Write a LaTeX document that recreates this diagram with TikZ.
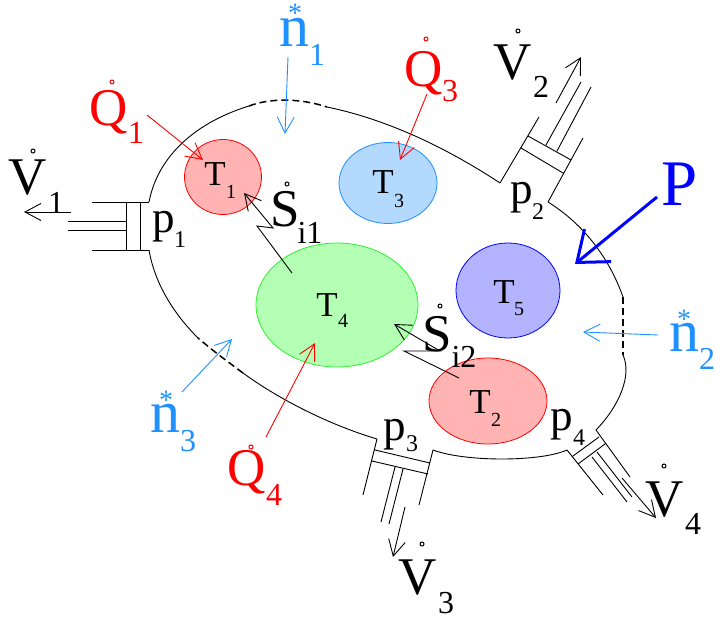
\documentclass[tikz,border=0pt]{standalone}
\usepackage{fontspec}
\setmainfont{Liberation Serif}
\usetikzlibrary{arrows.meta, shapes.geometric}

\definecolor{sky}{HTML}{1E90FF}
\definecolor{fillred}{HTML}{FFB3B3}
\definecolor{fillsky}{HTML}{B3D9FF}
\definecolor{fillgreen}{HTML}{B3FFB3}
\definecolor{fillblue}{HTML}{B3B3FF}
\definecolor{edgegreen}{HTML}{33EE33}

\tikzset{
	bigsym/.style={anchor=base, inner sep=0pt, font=\fontsize{53}{53}\selectfont},
	bigsub/.style={anchor=base, inner sep=0pt, font=\fontsize{32}{32}\selectfont},
	psym/.style={anchor=base, inner sep=0pt, font=\fontsize{45}{45}\selectfont},
	psub/.style={anchor=base, inner sep=0pt, font=\fontsize{24}{24}\selectfont},
	tsym/.style={anchor=base, inner sep=0pt, font=\fontsize{35}{35}\selectfont},
	tsub/.style={anchor=base, inner sep=0pt, font=\fontsize{20}{20}\selectfont},
	nsym/.style={anchor=base, inner sep=0pt, font=\fontsize{60}{60}\selectfont},
	starmark/.style={anchor=base, inner sep=0pt, text=sky, font=\fontsize{28}{28}\selectfont},
	dotmark/.style={circle, draw, inner sep=0pt, minimum size=4pt, line width=1pt},
	bubble/.style={ellipse, draw, inner sep=0pt, line width=.8pt},
	wall/.style={line width=.9pt},
	gap/.style={line width=1.5pt, dash pattern=on 7pt off 4pt},
	flow/.style={line width=.9pt, ->, >={Straight Barb[length=16pt,width=17pt]}},
}

\begin{document}
\begin{tikzpicture}[x=1pt, y=-1pt]

	\useasboundingbox (0,0) rectangle (715,618);

	\node[bubble, fill=fillred, draw=red, minimum width=77pt, minimum height=75pt] (b1) at (223,177) {};
	\node[bubble, fill=fillsky, draw=sky, minimum width=98pt, minimum height=81pt] (b3) at (388,183) {};
	\node[bubble, fill=fillgreen, draw=edgegreen, minimum width=162pt, minimum height=124pt] (b4) at (337,305) {};
	\node[bubble, fill=fillblue, draw=blue, minimum width=104pt, minimum height=95pt] (b5) at (508,290.5) {};
	\node[bubble, fill=fillred, draw=red, minimum width=118pt, minimum height=86pt] (b2) at (488,401) {};

	\draw[wall] (149,202) .. controls (158,155) and (197,122) .. (249,106);
	\draw[gap] (249,106) .. controls (270,98) and (300,98) .. (327,107);
	\draw[wall] (327,107) .. controls (390,120) and (450,150) .. (500,183);
	\draw[wall] (548,202) .. controls (585,225) and (610,260) .. (623,297);
	\draw[gap] (623,297) -- (623,355);
	\draw[wall] (623,355) .. controls (632,375) and (620,405) .. (596,430);
	\draw[wall] (567,450) .. controls (540,462) and (465,462) .. (433,450);
	\draw[wall] (377,439) .. controls (330,425) and (280,400) .. (243,373);
	\draw[gap] (243,373) .. controls (228,362) and (212,350) .. (198,338);
	\draw[wall] (198,338) .. controls (175,315) and (155,285) .. (149,250);

	\draw[wall] (92,202) -- (149,202) (92,250) -- (149,250) (126,202) -- (126,250) (140,202) -- (140,250)
	(68,221) -- (126,221) (68,230) -- (126,230);
	\draw[wall] (500,183) -- (539,117) (521,148) -- (563,173) (528,136) -- (571,160) (548,202) -- (583,138)
	(546,145) -- (581,82) (557,151) -- (591,87);
	\draw[wall] (596,430) -- (630,477) (573,456) -- (599,437) (578,464) -- (605,444) (567,450) -- (603,495)
	(592,457) -- (627,502) (597,452) -- (632,497);
	\draw[wall] (433,450) -- (419,505) (375,450) -- (430,463) (372,461) -- (428,474) (377,439) -- (363,495)
	(395,467) -- (381,522) (403,469) -- (389,524);

	\foreach \name/\x/\y/\txt in {V1/27.5/194/V, V2/513/79/V, V3/418/594/V, V4/665/516/V, S1/285/226/S, S2/437/351/S}
		\node[bigsym] (\name) at (\x,\y) {\txt};
	\foreach \name/\x/\y/\txt in {V1s/56/213/1, V2s/541/98/2, V3s/446/613/3, V4s/693/534/4, S1s/310/243/i1, S2s/464/367/i2}
		\node[bigsub] (\name) at (\x,\y) {\txt};
	\foreach \name/\x/\y in {V1d/33/151, V2d/518/31, V3d/422/544, V4d/664/466, S1d/287/184, S2d/440/306}
		\node[dotmark] (\name) at (\x,\y) {};

	\foreach \name/\x/\y in {Q1/109/125, Q3/424/86, Q4/247/485}
		\node[bigsym, text=red] (\name) at (\x,\y) {Q};
	\foreach \name/\x/\y/\txt in {Q1s/136/143/1, Q3s/450/101/3, Q4s/274/505/4}
		\node[bigsub, text=red] (\name) at (\x,\y) {\txt};
	\foreach \name/\x/\y in {Q1d/112/82, Q3d/426/39, Q4d/251/447}
		\node[dotmark, draw=red] (\name) at (\x,\y) {};

	\foreach \name/\x/\y in {n1/294/47, n2/684/351, n3/165/432}
		\node[nsym, text=sky] (\name) at (\x,\y) {n};
	\foreach \name/\x/\y/\txt in {n1s/317/66/1, n2s/707/369/2, n3s/188/451/3}
		\node[bigsub, text=sky] (\name) at (\x,\y) {\txt};
	\foreach \name/\x/\y in {n1a/295/23, n2a/684/328, n3a/166/409}
		\node[starmark] (\name) at (\x,\y) {*};

	\foreach \name/\x/\y/\txt in {p1/164/232/p, p2/522/203/p, p3/395/440/p, p4/562/430/p}
		\node[psym] (\name) at (\x,\y) {\txt};
	\foreach \name/\x/\y/\txt in {p1s/180/247/1, p2s/538/219/2, p3s/412/451/3, p4s/579/445/4}
		\node[psub] (\name) at (\x,\y) {\txt};

	\foreach \name/\x/\y/\sx/\sy/\txt in {T1/215/185/231/198/1, T2/480/413/496/426/2, T3/383/193/399/207/3, T4/327/316/343/327/4, T5/504/303/519/315/5} {
		\node[tsym] (\name) at (\x,\y) {T};
		\node[tsub] (\name s) at (\sx,\sy) {\txt};
	}

	\node[anchor=base, inner sep=0pt, text=blue, font=\fontsize{65}{65}\selectfont] (P) at (680,205) {P};

	\coordinate (Q1a) at (147,115);
	\coordinate (Q1b) at (203,160);
	\coordinate (Q3a) at (427,94);
	\coordinate (Q3b) at (400,160);
	\coordinate (Q4a) at (266,437);
	\coordinate (Q4b) at (315,343);
	\coordinate (n1b) at (288,57);
	\coordinate (n1c) at (285,134);
	\coordinate (n2b) at (658,335);
	\coordinate (n2c) at (583,332);
	\coordinate (n3b) at (182,392);
	\coordinate (n3c) at (232,339);
	\coordinate (V1a) at (71,212);
	\coordinate (V1b) at (24,212);
	\coordinate (V2a) at (556,103);
	\coordinate (V2b) at (581,57);
	\coordinate (V3a) at (405,507);
	\coordinate (V3b) at (393,557);
	\coordinate (V4a) at (622,478);
	\coordinate (V4b) at (656,518);
	\coordinate (Pa) at (657,197);
	\coordinate (Pb) at (575,264);

	\foreach \a/\b in {Q1a/Q1b, Q3a/Q3b, Q4a/Q4b}
		\draw[flow, red] (\a) -- (\b);
	\foreach \a/\b in {n1b/n1c, n2b/n2c, n3b/n3c}
		\draw[flow, sky] (\a) -- (\b);
	\foreach \a/\b in {V1a/V1b, V2a/V2b, V3a/V3b, V4a/V4b}
		\draw[flow] (\a) -- (\b);
	\draw[flow, blue, line width=3pt, >={Straight Barb[length=27pt,width=42pt]}] (Pa) -- (Pb);

	\draw[flow] (292,273) -- (257,226) -- (273,228) -- (244,193);
	\draw[flow] (459,378) -- (404,351) -- (440,351) -- (394,324);

\end{tikzpicture}
\end{document}
